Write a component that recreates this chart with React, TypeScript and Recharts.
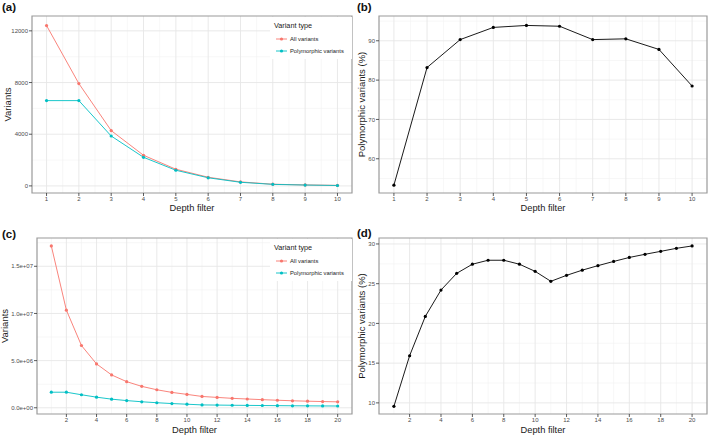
import React from 'react';
import { LineChart, Line, XAxis, YAxis, CartesianGrid, ReferenceArea, Label } from 'recharts';

// ---- Data ----
const depthA = [1, 2, 3, 4, 5, 6, 7, 8, 9, 10];
const allA = [12410, 7920, 4280, 2370, 1290, 670, 310, 130, 75, 40];
const polyA = [6600, 6600, 3860, 2215, 1212, 628, 280, 118, 66, 31];
const pctB = [53.3, 83.2, 90.3, 93.4, 93.9, 93.7, 90.3, 90.5, 87.8, 78.5];

const depthC = [1, 2, 3, 4, 5, 6, 7, 8, 9, 10, 11, 12, 13, 14, 15, 16, 17, 18, 19, 20];
const allC = [17.16e6, 10.35e6, 6.6e6, 4.65e6, 3.48e6, 2.77e6, 2.27e6, 1.91e6, 1.63e6, 1.42e6,
  1.2e6, 1.1e6, 1.0e6, 0.93e6, 0.86e6, 0.8e6, 0.74e6, 0.7e6, 0.66e6, 0.63e6];
const polyC = [1.65e6, 1.65e6, 1.38e6, 1.125e6, 0.915e6, 0.762e6, 0.636e6, 0.535e6, 0.448e6, 0.378e6,
  0.304e6, 0.286e6, 0.267e6, 0.253e6, 0.239e6, 0.226e6, 0.212e6, 0.203e6, 0.194e6, 0.187e6];
const pctD = [9.57, 15.93, 20.88, 24.2, 26.3, 27.45, 27.95, 27.95, 27.45, 26.55,
  25.3, 26.05, 26.7, 27.27, 27.8, 28.3, 28.7, 29.07, 29.45, 29.75];

// ---- Ticks ----
const xTicksA = [1, 2, 3, 4, 5, 6, 7, 8, 9, 10];
const xMinorA = [1.5, 2.5, 3.5, 4.5, 5.5, 6.5, 7.5, 8.5, 9.5];
const yTicksA = [0, 4000, 8000, 12000];
const yMinorA = [2000, 6000, 10000];
const yTicksB = [60, 70, 80, 90];
const yMinorB = [55, 65, 75, 85, 95];
const xTicksC = [2, 4, 6, 8, 10, 12, 14, 16, 18, 20];
const xMinorC = [1, 3, 5, 7, 9, 11, 13, 15, 17, 19];
const yTicksC = [0, 5e6, 10e6, 15e6];
const yMinorC = [2.5e6, 7.5e6, 12.5e6, 17.5e6];
const yTicksD = [10, 15, 20, 25, 30];
const yMinorD = [12.5, 17.5, 22.5, 27.5];

const legendLabels = ['All variants', 'Polymorphic variants'];
const RED = '#F8766D';
const TEAL = '#00BFC4';

const FONT = '"Liberation Sans", Arial, Helvetica, sans-serif';

const dataA = depthA.map((d, i) => ({ depth: d, all: allA[i], poly: polyA[i], pct: pctB[i] }));
const dataC = depthC.map((d, i) => ({ depth: d, all: allC[i], poly: polyC[i], pct: pctD[i] }));

const fmtSci = (v: number) => {
  const [m, e] = v.toExponential(1).split('e');
  const sign = e[0];
  const digits = e.slice(1).padStart(2, '0');
  return `${m}e${sign}${digits}`;
};

type Series = { key: string; color: string };

type PanelProps = {
  left: number;
  top: number;
  width: number;
  height: number;
  data: any[];
  series: Series[];
  xDomain: [number, number];
  yDomain: [number, number];
  xTicks: number[];
  xMinor: number[];
  yTicks: number[];
  yMinor: number[];
  yAxisWidth: number;
  xAxisHeight: number;
  marginTop: number;
  marginRight: number;
  yLabel: string;
  yLabelOffset: number;
  xLabelOffset: number;
  yFmt?: (v: number) => string;
  tag: string;
  tagTop: number;
  legendPos?: { left: number; top: number };
};

const tickStyle = { fontSize: 6, fill: '#4d4d4d', fontFamily: FONT };

function LegendBox({ left, top }: { left: number; top: number }) {
  const colors = [RED, TEAL];
  return (
    <div
      style={{
        position: 'absolute',
        left,
        top,
        width: 82,
        height: 42,
        background: '#fff',
        fontFamily: FONT,
        color: '#1a1a1a',
      }}
    >
      <div style={{ position: 'absolute', left: 4, top: 4, fontSize: 7.25, lineHeight: '9px' }}>Variant type</div>
      {legendLabels.map((lab, i) => (
        <div key={lab} style={{ position: 'absolute', left: 5, top: 17 + i * 12, height: 10, display: 'flex', alignItems: 'center' }}>
          <svg width={13} height={10} style={{ display: 'block' }}>
            <line x1={1} y1={5} x2={12} y2={5} stroke={colors[i]} strokeWidth={0.9} />
            <circle cx={6.5} cy={5} r={1.6} fill={colors[i]} />
          </svg>
          <span style={{ fontSize: 5.8, marginLeft: 2, whiteSpace: 'nowrap' }}>{lab}</span>
        </div>
      ))}
    </div>
  );
}

function Panel(p: PanelProps) {
  return (
    <div style={{ position: 'absolute', left: p.left, top: p.top, width: p.width, height: p.height }}>
      <LineChart
        width={p.width}
        height={p.height}
        data={p.data}
        margin={{ top: p.marginTop, right: p.marginRight, bottom: 0, left: 0 }}
        style={{ fontFamily: FONT }}
      >
        <CartesianGrid
          stroke="#f2f2f2"
          strokeWidth={0.6}
          horizontalValues={p.yMinor}
          verticalValues={p.xMinor}
          fill="#fff"
        />
        <CartesianGrid
          stroke="#e6e6e6"
          strokeWidth={0.9}
          horizontalValues={p.yTicks}
          verticalValues={p.xTicks}
        />
        <XAxis
          dataKey="depth"
          type="number"
          domain={p.xDomain}
          ticks={p.xTicks}
          allowDataOverflow
          height={p.xAxisHeight}
          axisLine={false}
          tickLine={{ stroke: '#333', strokeWidth: 0.8 }}
          tickSize={3}
          tickMargin={1}
          tick={tickStyle}
          interval={0}
        >
          <Label
            value="Depth filter"
            position="insideBottom"
            offset={p.xLabelOffset}
            style={{ fontSize: 9.3, fill: '#1a1a1a', fontFamily: FONT }}
          />
        </XAxis>
        <YAxis
          type="number"
          domain={p.yDomain}
          ticks={p.yTicks}
          allowDataOverflow
          width={p.yAxisWidth}
          axisLine={false}
          tickLine={{ stroke: '#333', strokeWidth: 0.8 }}
          tickSize={3}
          tickMargin={1}
          tick={tickStyle}
          tickFormatter={p.yFmt}
          interval={0}
        >
          <Label
            value={p.yLabel}
            angle={-90}
            position="insideLeft"
            offset={p.yLabelOffset}
            style={{ fontSize: 9.5, fill: '#1a1a1a', fontFamily: FONT, textAnchor: 'middle' }}
          />
        </YAxis>
        {p.series.map((s) => (
          <Line
            key={s.key}
            dataKey={s.key}
            type="linear"
            stroke={s.color}
            strokeWidth={0.9}
            dot={{ r: 1.6, fill: s.color, stroke: s.color, strokeWidth: 0 }}
            activeDot={false}
            isAnimationActive={false}
          />
        ))}
        <ReferenceArea
          x1={p.xDomain[0]}
          x2={p.xDomain[1]}
          y1={p.yDomain[0]}
          y2={p.yDomain[1]}
          fill="none"
          fillOpacity={0}
          stroke="#9a9a9a"
          strokeWidth={1.2}
          ifOverflow="visible"
        />
      </LineChart>
      {p.legendPos && <LegendBox left={p.legendPos.left} top={p.legendPos.top} />}
      <div
        style={{
          position: 'absolute',
          left: 2,
          top: p.tagTop,
          fontFamily: FONT,
          fontWeight: 'bold',
          fontSize: 11.5,
          lineHeight: '12px',
          color: '#111',
        }}
      >
        {p.tag}
      </div>
    </div>
  );
}

export default function App() {
  return (
    <div style={{ position: 'absolute', left: 0, top: 0, width: 709, height: 435, background: '#fff', overflow: 'hidden' }}>
      <Panel
        left={0} top={0} width={355} height={215}
        data={dataA}
        series={[{ key: 'all', color: RED }, { key: 'poly', color: TEAL }]}
        xDomain={[0.55, 10.45]} yDomain={[-550, 13150]}
        xTicks={xTicksA} xMinor={xMinorA} yTicks={yTicksA} yMinor={yMinorA}
        yAxisWidth={32} xAxisHeight={22} marginTop={16} marginRight={3}
        yLabel="Variants" yLabelOffset={8} xLabelOffset={4}
        tag="(a)" tagTop={1}
        legendPos={{ left: 270, top: 17 }}
      />
      <Panel
        left={355} top={0} width={354} height={215}
        data={dataA}
        series={[{ key: 'pct', color: '#000' }]}
        xDomain={[0.55, 10.45]} yDomain={[51.3, 96.3]}
        xTicks={xTicksA} xMinor={xMinorA} yTicks={yTicksB} yMinor={yMinorB}
        yAxisWidth={24} xAxisHeight={22} marginTop={16} marginRight={2}
        yLabel="Polymorphic variants (%)" yLabelOffset={7} xLabelOffset={4}
        tag="(b)" tagTop={1}
      />
      <Panel
        left={0} top={215} width={355} height={220}
        data={dataC}
        series={[{ key: 'all', color: RED }, { key: 'poly', color: TEAL }]}
        xDomain={[0.05, 20.95]} yDomain={[-0.66e6, 18.0e6]}
        xTicks={xTicksC} xMinor={xMinorC} yTicks={yTicksC} yMinor={yMinorC}
        yAxisWidth={37} xAxisHeight={21} marginTop={23} marginRight={3}
        yLabel="Variants" yLabelOffset={5} xLabelOffset={2}
        yFmt={fmtSci}
        tag="(c)" tagTop={13}
        legendPos={{ left: 270, top: 24 }}
      />
      <Panel
        left={355} top={215} width={354} height={220}
        data={dataC}
        series={[{ key: 'pct', color: '#000' }]}
        xDomain={[0.05, 20.95]} yDomain={[8.6, 30.75]}
        xTicks={xTicksC} xMinor={xMinorC} yTicks={yTicksD} yMinor={yMinorD}
        yAxisWidth={24} xAxisHeight={21} marginTop={23} marginRight={2}
        yLabel="Polymorphic variants (%)" yLabelOffset={7} xLabelOffset={2}
        tag="(d)" tagTop={12}
      />
    </div>
  );
}
